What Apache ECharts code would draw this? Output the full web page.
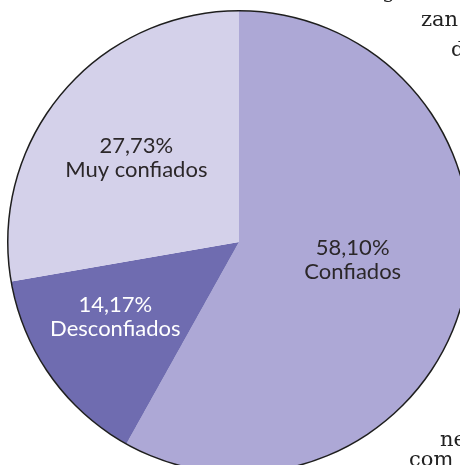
<!DOCTYPE html>
<html>
<head>
<meta charset="utf-8">
<script src="https://cdn.jsdelivr.net/npm/echarts@6/dist/echarts.min.js"></script>
<style>
  html, body { margin: 0; padding: 0; background: #fff; }
  #chart { width: 460px; height: 465px; }
</style>
</head>
<body>
<div id="chart"></div>
<script>
var names = ['Confiados', 'Desconfiados', 'Muy confiados'];
var values = [58.10, 14.17, 27.73];
var colors = ['#ADA8D6', '#6F6CB0', '#D4D1EA'];
var labelColors = ['#2b2729', '#ffffff', '#2b2729'];
// nudge labels to where they sit in the original
var labelShift = [[-1, -12], [-27, 6], [-12, -8]];

var chart = echarts.init(document.getElementById('chart'));

var pieData = names.map(function (n, i) {
    return {
        name: n,
        value: values[i],
        itemStyle: { color: colors[i] },
        label: { color: labelColors[i] }
    };
});

var bgFont = '21px "DejaVu Serif"';

var options = {
    animation: false,
    graphic: [
        { type: 'text', left: 382, top: -18, z: 0, style: { text: 'g', font: bgFont, fill: '#222' } },
        { type: 'text', left: 421, top: 10, z: 0, style: { text: 'zan', font: bgFont, fill: '#222' } },
        { type: 'text', left: 451, top: 40, z: 0, style: { text: 'd', font: bgFont, fill: '#222' } },
        { type: 'text', left: 440, top: 430, z: 0, style: { text: 'ne', font: bgFont, fill: '#222' } },
        { type: 'text', left: 409, top: 450, z: 0, style: { text: 'com', font: bgFont, fill: '#222' } }
    ],
    series: [
        {
            type: 'pie',
            center: [239, 242],
            radius: [0, 231],
            startAngle: 90,
            clockwise: true,
            silent: true,
            z: 2,
            itemStyle: { borderWidth: 0 },
            label: {
                show: true,
                position: 'inside',
                fontFamily: 'Lato',
                fontSize: 22,
                lineHeight: 24,
                formatter: function (p) {
                    return p.value.toFixed(2).replace('.', ',') + '%\n' + p.name;
                }
            },
            labelLayout: function (params) {
                var s = labelShift[params.dataIndex];
                return { dx: s[0], dy: s[1] };
            },
            data: pieData
        },
        {
            // thin dark outline around the pie
            type: 'pie',
            center: [239, 242],
            radius: [230.5, 232],
            silent: true,
            z: 3,
            label: { show: false },
            itemStyle: { color: '#1e1e1e', borderWidth: 0 },
            data: [{ value: 1, name: 'outline' }]
        }
    ]
};

chart.setOption(options);
</script>
</body>
</html>
